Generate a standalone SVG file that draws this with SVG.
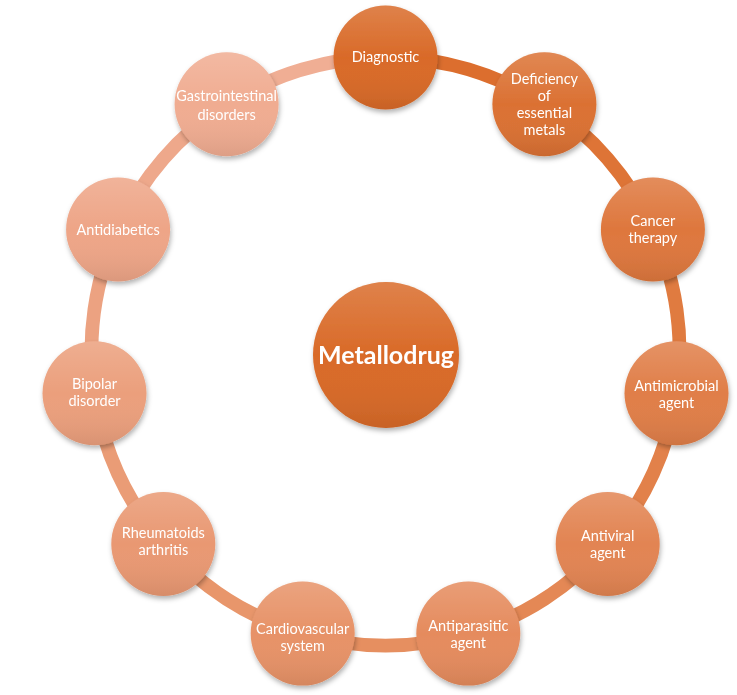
<svg xmlns="http://www.w3.org/2000/svg" width="737" height="695" viewBox="0 0 737 695">
<defs>
<style>
.bg{fill:#FFFFFF}
.ring path{fill:none;stroke-width:14}
.node .shade{fill:url(#shade)}
.lbl{font-family:Lato,"Open Sans","Liberation Sans",sans-serif;font-size:14.5px;fill:#FFFFFF;text-anchor:middle}
.big{font-family:Lato,"Open Sans","Liberation Sans",sans-serif;font-size:25px;font-weight:bold;fill:#FFFFFF;text-anchor:middle}
</style>
<linearGradient id="shade" x1="0" y1="0" x2="0" y2="1">
<stop offset="0" stop-color="#FFFFFF" stop-opacity="0.16"/>
<stop offset="0.5" stop-color="#FFFFFF" stop-opacity="0"/>
<stop offset="1" stop-color="#000000" stop-opacity="0.08"/>
</linearGradient>
<filter id="sh" x="-20%" y="-20%" width="140%" height="150%">
<feDropShadow dx="1" dy="3" stdDeviation="2.5" flood-color="#000000" flood-opacity="0.3"/>
</filter>
</defs>
<rect class="bg" x="0" y="0" width="737" height="695"/>
<g id="connectors" class="ring">
<path d="M385.5,57.5 A294,294 0 0 1 544.4,104.2" stroke="#DC6E2E"/>
<path d="M544.4,104.2 A294,294 0 0 1 652.9,229.4" stroke="#DE7436"/>
<path d="M652.9,229.4 A294,294 0 0 1 676.5,393.3" stroke="#E07B40"/>
<path d="M676.5,393.3 A294,294 0 0 1 607.7,544" stroke="#E2814A"/>
<path d="M607.7,544 A294,294 0 0 1 468.3,633.6" stroke="#E48855"/>
<path d="M468.3,633.6 A294,294 0 0 1 302.7,633.6" stroke="#E68F60"/>
<path d="M302.7,633.6 A294,294 0 0 1 163.3,544" stroke="#E8966B"/>
<path d="M163.3,544 A294,294 0 0 1 94.5,393.3" stroke="#EA9C76"/>
<path d="M94.5,393.3 A294,294 0 0 1 118.1,229.4" stroke="#ECA281"/>
<path d="M118.1,229.4 A294,294 0 0 1 226.6,104.2" stroke="#EEA88B"/>
<path d="M226.6,104.2 A294,294 0 0 1 385.5,57.5" stroke="#F0AE94"/>
</g>
<g id="center" class="node" filter="url(#sh)">
<circle cx="386" cy="355" r="73" fill="#D96A28"/>
<circle class="shade" cx="386" cy="355" r="73"/>
<text class="big" x="386" y="364">Metallodrug</text>
</g>
<g id="n0" class="node" filter="url(#sh)">
<circle cx="385.5" cy="57.5" r="52" fill="#D96A28"/>
<circle class="shade" cx="385.5" cy="57.5" r="52"/>
<text class="lbl" x="385.5" y="62">Diagnostic</text>
</g>
<g id="n1" class="node" filter="url(#sh)">
<circle cx="544.4" cy="104.2" r="52" fill="#DB7133"/>
<circle class="shade" cx="544.4" cy="104.2" r="52"/>
<text class="lbl" x="544.4" y="84">Deficiency</text>
<text class="lbl" x="544.4" y="101">of</text>
<text class="lbl" x="544.4" y="118">essential</text>
<text class="lbl" x="544.4" y="135">metals</text>
</g>
<g id="n2" class="node" filter="url(#sh)">
<circle cx="652.9" cy="229.4" r="52" fill="#DE773D"/>
<circle class="shade" cx="652.9" cy="229.4" r="52"/>
<text class="lbl" x="652.9" y="226">Cancer</text>
<text class="lbl" x="652.9" y="243">therapy</text>
</g>
<g id="n3" class="node" filter="url(#sh)">
<circle cx="676.5" cy="393.3" r="52" fill="#E07E48"/>
<circle class="shade" cx="676.5" cy="393.3" r="52"/>
<text class="lbl" x="676.5" y="391">Antimicrobial</text>
<text class="lbl" x="676.5" y="408">agent</text>
</g>
<g id="n4" class="node" filter="url(#sh)">
<circle cx="607.7" cy="544" r="52" fill="#E28452"/>
<circle class="shade" cx="607.7" cy="544" r="52"/>
<text class="lbl" x="607.7" y="541">Antiviral</text>
<text class="lbl" x="607.7" y="558">agent</text>
</g>
<g id="n5" class="node" filter="url(#sh)">
<circle cx="468.3" cy="633.6" r="52" fill="#E58B5D"/>
<circle class="shade" cx="468.3" cy="633.6" r="52"/>
<text class="lbl" x="468.3" y="631">Antiparasitic</text>
<text class="lbl" x="468.3" y="648">agent</text>
</g>
<g id="n6" class="node" filter="url(#sh)">
<circle cx="302.7" cy="633.6" r="52" fill="#E79267"/>
<circle class="shade" cx="302.7" cy="633.6" r="52"/>
<text class="lbl" x="302.7" y="634">Cardiovascular</text>
<text class="lbl" x="302.7" y="651">system</text>
</g>
<g id="n7" class="node" filter="url(#sh)">
<circle cx="163.3" cy="544" r="52" fill="#E99872"/>
<circle class="shade" cx="163.3" cy="544" r="52"/>
<text class="lbl" x="163.3" y="538">Rheumatoids</text>
<text class="lbl" x="163.3" y="555">arthritis</text>
</g>
<g id="n8" class="node" filter="url(#sh)">
<circle cx="94.5" cy="393.3" r="52" fill="#EB9F7C"/>
<circle class="shade" cx="94.5" cy="393.3" r="52"/>
<text class="lbl" x="94.5" y="389">Bipolar</text>
<text class="lbl" x="94.5" y="406">disorder</text>
</g>
<g id="n9" class="node" filter="url(#sh)">
<circle cx="118.1" cy="229.4" r="52" fill="#EEA587"/>
<circle class="shade" cx="118.1" cy="229.4" r="52"/>
<text class="lbl" x="118.1" y="235">Antidiabetics</text>
</g>
<g id="n10" class="node" filter="url(#sh)">
<circle cx="226.6" cy="104.2" r="52" fill="#F0AC91"/>
<circle class="shade" cx="226.6" cy="104.2" r="52"/>
<text class="lbl" x="226.6" y="101">Gastrointestinal</text>
<text class="lbl" x="226.6" y="120">disorders</text>
</g>
</svg>
